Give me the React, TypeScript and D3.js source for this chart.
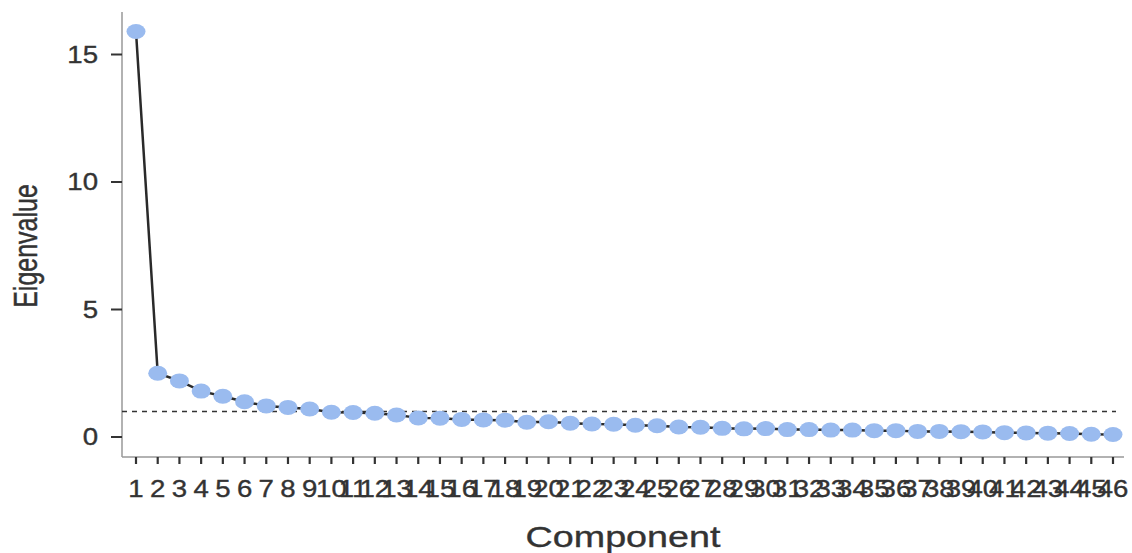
import { useEffect, useRef } from 'react'
import * as d3 from 'd3'

// Scree plot: eigenvalue per component
const COMPONENTS = d3.range(1, 47)
const EIGENVALUES = [
  15.9, 2.5, 2.2, 1.8, 1.6, 1.38, 1.22, 1.16, 1.1, 0.97,
  0.96, 0.93, 0.86, 0.75, 0.74, 0.69, 0.67, 0.66, 0.58, 0.6,
  0.54, 0.51, 0.5, 0.46, 0.44, 0.39, 0.38, 0.34, 0.32, 0.33,
  0.29, 0.29, 0.27, 0.27, 0.25, 0.25, 0.22, 0.22, 0.21, 0.2,
  0.17, 0.16, 0.15, 0.14, 0.11, 0.1,
]
const Y_TICKS = [0, 5, 10, 15]
const THRESHOLD = 1

const W = 1132
const H = 553

export default function App() {
  const svgRef = useRef<SVGSVGElement>(null)

  useEffect(() => {
    if (!svgRef.current) return
    const svg = d3.select(svgRef.current)
    svg.selectAll('*').remove()

    const axisX = 122
    const axisY = 457

    const x = d3.scaleLinear().domain([1, 46]).range([136, 1113])
    const y = d3.scaleLinear().domain([0, 15]).range([437, 54.5])

    const font = '"Liberation Sans", Arial, sans-serif'
    // the original picture is widened horizontally, so text gets a stretch
    const text = (s: string, tx: number, ty: number, size: number, anchor: string, stretch: number, rotate = 0) => {
      svg.append('g')
        .attr('transform', `translate(${tx},${ty}) rotate(${rotate}) scale(${rotate ? 1 : stretch},${rotate ? stretch : 1})`)
        .append('text')
        .text(s)
        .attr('text-anchor', anchor)
        .attr('font-family', font)
        .attr('font-size', size)
        .attr('fill', '#333')
        .attr('stroke', '#333')
        .attr('stroke-width', 0.35)
    }

    // Axis lines
    svg.append('line')
      .attr('x1', axisX).attr('x2', axisX).attr('y1', 12).attr('y2', axisY)
      .attr('stroke', '#999').attr('stroke-width', 1.5)
    svg.append('line')
      .attr('x1', axisX).attr('x2', 1124).attr('y1', axisY).attr('y2', axisY)
      .attr('stroke', '#999').attr('stroke-width', 1.5)

    // Y ticks
    Y_TICKS.forEach(t => {
      svg.append('line')
        .attr('x1', 111).attr('x2', axisX).attr('y1', y(t)).attr('y2', y(t))
        .attr('stroke', '#333').attr('stroke-width', 2)
      text(String(t), 98, y(t) + 8, 23, 'end', 1.2)
    })

    // X ticks
    COMPONENTS.forEach(c => {
      svg.append('line')
        .attr('x1', x(c)).attr('x2', x(c)).attr('y1', axisY).attr('y2', axisY + 7)
        .attr('stroke', '#333').attr('stroke-width', 2.2)
      text(String(c), x(c), 497, 23, 'middle', 1.2)
    })

    // Threshold line
    svg.append('line')
      .attr('x1', axisX).attr('x2', 1116)
      .attr('y1', y(THRESHOLD)).attr('y2', y(THRESHOLD))
      .attr('stroke', '#333').attr('stroke-width', 1.3)
      .attr('stroke-dasharray', '5,5')

    const pts = COMPONENTS.map((c, i) => ({ c, v: EIGENVALUES[i] }))

    // Line
    const line = d3.line<{ c: number; v: number }>()
      .x(d => x(d.c))
      .y(d => y(d.v))
    svg.append('path')
      .datum(pts)
      .attr('d', line)
      .attr('fill', 'none')
      .attr('stroke', '#2a2a2a')
      .attr('stroke-width', 2.5)

    // Points
    svg.selectAll('.pt')
      .data(pts)
      .enter()
      .append('ellipse')
      .attr('cx', d => x(d.c))
      .attr('cy', d => y(d.v))
      .attr('rx', 9.5)
      .attr('ry', 7.5)
      .attr('fill', '#9abbef')

    // Axis titles
    text('Eigenvalue', 37, 246, 25, 'middle', 1.3, -90)
    text('Component', 623, 547, 29, 'middle', 1.3)
  }, [])

  return (
    <svg
      ref={svgRef}
      width={W}
      height={H}
      style={{ position: 'absolute', left: 0, top: 0, display: 'block', background: '#fff' }}
    />
  )
}
